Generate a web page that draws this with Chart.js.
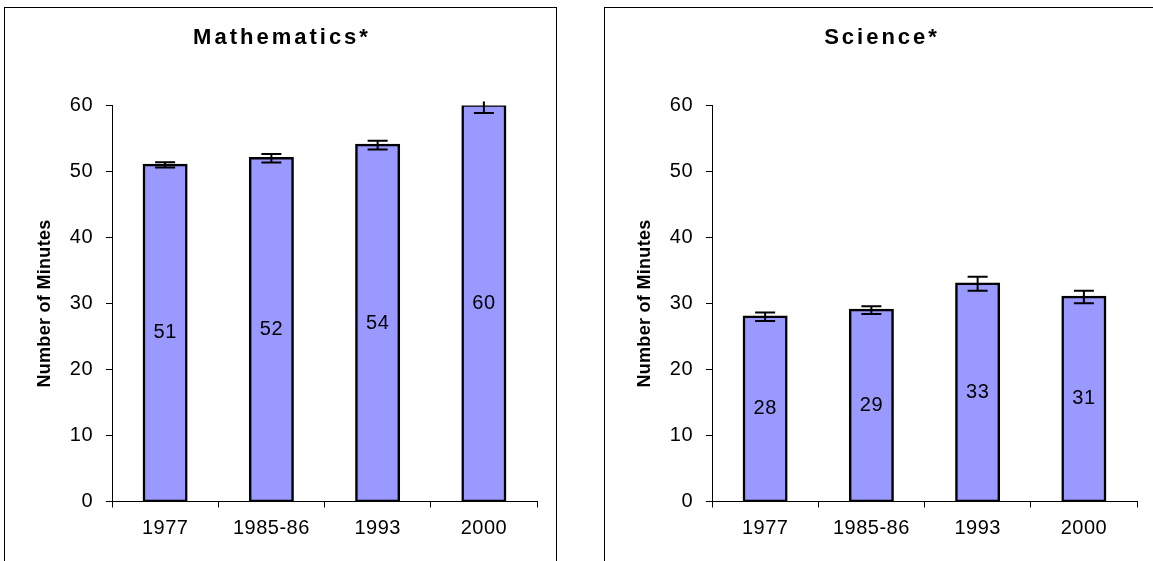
<!DOCTYPE html>
<html>
<head>
<meta charset="utf-8">
<title>Minutes per day</title>
<script src="https://cdn.jsdelivr.net/npm/chart.js@4.4.1/dist/chart.umd.min.js"></script>
<style>
  html, body { margin: 0; padding: 0; background: #fff; overflow: hidden; }
  body { width: 1153px; height: 561px; position: relative; font-family: "Liberation Sans", Arial, sans-serif; }
  .panel { position: absolute; top: 7px; width: 553px; height: 600px; border: 1px solid #000; box-sizing: border-box; background: #fff; }
  .panel canvas { position: absolute; left: 0; top: 0; }
</style>
</head>
<body>
<div class="panel" style="left:4px"><canvas id="mathChart" width="551" height="553"></canvas></div>
<div class="panel" style="left:604px"><canvas id="scienceChart" width="551" height="553"></canvas></div>
<script>
const years = ['1977', '1985-86', '1993', '2000'];
const mathMinutes = [51, 52, 54, 60];
const mathErrors = [0.4, 0.65, 0.65, 1.15];
const scienceMinutes = [28, 29, 33, 31];
const scienceErrors = [0.64, 0.6, 1.05, 0.95];
const yTickValues = [0, 10, 20, 30, 40, 50, 60];
const yAxisTitle = 'Number of Minutes';

const FONT = '"Liberation Sans", Arial, sans-serif';

// error bars, value labels, titles (Excel-like letter spacing)
const decorations = {
  id: 'decorations',
  beforeDraw(chart) {
    chart.ctx.letterSpacing = '0.5px';
  },
  afterDatasetsDraw(chart, args, opts) {
    const ctx = chart.ctx;
    const y = chart.scales.y;
    const area = chart.chartArea;
    const bars = chart.getDatasetMeta(0).data;
    const values = chart.data.datasets[0].data;

    ctx.save();
    ctx.beginPath();
    ctx.rect(area.left, area.top - 4, area.right - area.left, area.bottom - area.top + 8);
    ctx.clip();
    ctx.strokeStyle = '#000';
    ctx.lineWidth = 2;
    bars.forEach((bar, i) => {
      const hi = y.getPixelForValue(values[i] + opts.errors[i]);
      const lo = y.getPixelForValue(values[i] - opts.errors[i]);
      ctx.beginPath();
      ctx.moveTo(bar.x, hi);
      ctx.lineTo(bar.x, lo);
      ctx.moveTo(bar.x - 10, hi);
      ctx.lineTo(bar.x + 10, hi);
      ctx.moveTo(bar.x - 10, lo);
      ctx.lineTo(bar.x + 10, lo);
      ctx.stroke();
    });
    ctx.restore();

    ctx.save();
    ctx.letterSpacing = '0.5px';
    ctx.font = '20px ' + FONT;
    ctx.fillStyle = '#000';
    ctx.textAlign = 'center';
    ctx.textBaseline = 'middle';
    bars.forEach((bar, i) => {
      ctx.fillText(String(values[i]), bar.x, (bar.y + bar.base) / 2);
    });
    ctx.restore();
  },
  afterDraw(chart, args, opts) {
    const ctx = chart.ctx;
    const area = chart.chartArea;
    ctx.save();
    ctx.fillStyle = '#000';
    ctx.textAlign = 'center';
    ctx.textBaseline = 'middle';
    ctx.letterSpacing = '3px';
    ctx.font = 'bold 22px ' + FONT;
    ctx.fillText(opts.title, chart.width / 2 + 1.5, 30);

    ctx.letterSpacing = '0.3px';
    ctx.font = 'bold 18px ' + FONT;
    ctx.translate(40, (area.top + area.bottom) / 2);
    ctx.rotate(-Math.PI / 2);
    ctx.fillText(yAxisTitle, 0, 0);
    ctx.restore();
  }
};

function makeChart(id, title, values, errors) {
  const ctx = document.getElementById(id).getContext('2d');
  return new Chart(ctx, {
    type: 'bar',
    data: {
      labels: years,
      datasets: [
        {
          data: values,
          backgroundColor: '#9999FF',
          borderColor: '#000',
          borderWidth: 2.5,
          borderSkipped: false,
          inflateAmount: 1.25,
          barPercentage: 0.4,
          categoryPercentage: 1,
        },
      ],
    },
    plugins: [decorations],
    options: {
      responsive: false,
      devicePixelRatio: 1,
      animation: false,
      events: [],
      layout: {
        padding: { left: 0, right: 19, top: 97.5, bottom: 0 },
      },
      plugins: {
        legend: { display: false },
        title: { display: false },
        tooltip: { enabled: false },
        decorations: { title: title, errors: errors },
      },
      scales: {
        x: {
          grid: {
            offset: true,
            drawOnChartArea: false,
            drawTicks: true,
            tickLength: 6,
            color: '#000',
            lineWidth: 1,
          },
          border: { display: true, color: '#000', width: 1 },
          ticks: {
            color: '#000',
            padding: 9,
            maxRotation: 0,
            font: { size: 20, family: FONT },
          },
          afterFit: (scale) => { scale.height = 59.5; },
        },
        y: {
          min: 0,
          max: 60,
          afterBuildTicks: (scale) => {
            scale.ticks = yTickValues.map((v) => ({ value: v }));
          },
          grid: {
            drawOnChartArea: false,
            drawTicks: true,
            tickLength: 6,
            color: '#000',
            lineWidth: 1,
          },
          border: { display: true, color: '#000', width: 1 },
          ticks: {
            color: '#000',
            padding: 13,
            font: { size: 20, family: FONT },
          },
          afterFit: (scale) => { scale.width = 107; },
        },
      },
    },
  });
}

makeChart('mathChart', 'Mathematics*', mathMinutes, mathErrors);
makeChart('scienceChart', 'Science*', scienceMinutes, scienceErrors);
</script>
</body>
</html>
